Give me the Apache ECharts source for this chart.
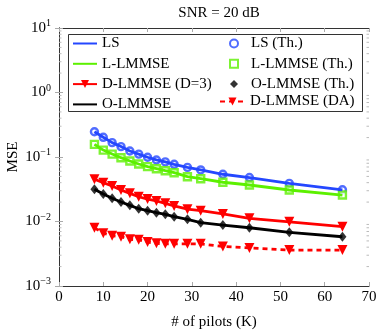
<!DOCTYPE html>
<html>
<head>
<meta charset="utf-8">
<script src="https://cdn.jsdelivr.net/npm/echarts@6/dist/echarts.min.js"></script>
<style>
  html, body { margin: 0; padding: 0; background: #fff; }
  #chart { width: 382px; height: 333px; }
</style>
</head>
<body>
<div id="chart"></div>
<script>
// number of pilots
const pilots = [8, 10, 12, 14, 16, 18, 20, 22, 24, 26, 29, 32, 37, 43, 52, 64];

// MSE values
const lsMse     = [0.246, 0.202, 0.167, 0.145, 0.124, 0.111, 0.099, 0.090, 0.084, 0.077, 0.069, 0.063, 0.054, 0.048, 0.039, 0.031];
const llmmseMse = [0.157, 0.128, 0.111, 0.0976, 0.0867, 0.0779, 0.0708, 0.0659, 0.0613, 0.0571, 0.0495, 0.0461, 0.0406, 0.0368, 0.0308, 0.0257];
const dlmmseMse = [0.0451, 0.040, 0.0355, 0.0308, 0.0273, 0.0242, 0.0223, 0.0208, 0.0191, 0.0174, 0.0155, 0.0147, 0.0131, 0.0112, 0.0099, 0.0083];
const olmmseMse = [0.0316, 0.0267, 0.0229, 0.0201, 0.0178, 0.0158, 0.0147, 0.0137, 0.0129, 0.0119, 0.0108, 0.0096, 0.0088, 0.0080, 0.0068, 0.0058];
const dlmmseDa  = [0.0080, 0.0066, 0.0060, 0.0058, 0.0053, 0.0052, 0.0048, 0.0046, 0.0045, 0.0045, 0.0045, 0.0045, 0.0041, 0.0039, 0.0036, 0.0036];

// theory markers sit on the simulated curves
const lsTh     = lsMse;
const llmmseTh = llmmseMse;
const olmmseTh = olmmseMse;

const xTicks = [0, 10, 20, 30, 40, 50, 60, 70];
const yDecades = [-3, -2, -1, 0, 1];

const FONT = 'Liberation Serif';
const FS = 15;
const BLUE = '#2447ff';
const GREEN = '#5cf000';
const RED = '#ff0000';
const BLACK = '#000000';
const LW = 2.8;

const pairs = ys => pilots.map((k, i) => [k, ys[i]]);

// minor tick positions 2..9 inside each decade
const minorVals = [];
for (let d = 0; d < yDecades.length - 1; d++) {
    for (let m = 2; m <= 9; m++) minorVals.push([0, m * Math.pow(10, yDecades[d])]);
}

const supText = e => e < 0 ? '\u2212' + (-e) : String(e);
const legendText = { fontFamily: FONT, fontSize: FS, color: '#000' };
const hideSym = name => ({ name: name, itemStyle: { opacity: 0 } });

const chart = echarts.init(document.getElementById('chart'));

const option = {
    animation: false,
    title: {
        text: 'SNR = 20 dB',
        left: 214,
        textAlign: 'center',
        top: 1,
        textStyle: { fontFamily: FONT, fontSize: FS, fontWeight: 'normal', color: '#000' }
    },
    grid: { left: 59, right: 13, top: 28, bottom: 47, outerBoundsMode: 'none', containLabel: false },
    graphic: [{
        type: 'rect',
        z: 50,
        shape: { x: 68.5, y: 34.5, width: 294, height: 77 },
        style: { fill: '#fff', stroke: '#333', lineWidth: 1 }
    }],
    legend: [{
        orient: 'vertical',
        left: 72, top: 36, padding: 0,
        itemGap: 5.3, itemWidth: 24, itemHeight: 10,
        textStyle: legendText,
        z: 60,
        data: [hideSym('LS'), hideSym('L-LMMSE'), 'D-LMMSE (D=3)', hideSym('O-LMMSE')]
    }, {
        orient: 'vertical',
        left: 229, top: 36, padding: 0,
        itemGap: 5.3, itemWidth: 8, itemHeight: 8,
        textStyle: Object.assign({ padding: [0, 0, 0, 8] }, legendText),
        z: 60,
        data: ['LS (Th.)', 'L-LMMSE (Th.)', 'O-LMMSE (Th.)']
    }, {
        orient: 'vertical',
        left: 219, top: 94, padding: 0,
        itemWidth: 25, itemHeight: 10,
        textStyle: legendText,
        z: 60,
        data: ['D-LMMSE (DA)']
    }],
    xAxis: [{
        type: 'value',
        min: xTicks[0],
        max: xTicks[xTicks.length - 1],
        interval: 10,
        name: '# of pilots (K)',
        nameLocation: 'middle',
        nameGap: 29,
        nameMoveOverlap: false,
        nameTextStyle: { fontFamily: FONT, fontSize: FS, color: '#000' },
        axisLine: { show: true, lineStyle: { color: '#333', width: 1 } },
        axisTick: { show: true, inside: true, length: 4, lineStyle: { color: '#aaa' } },
        axisLabel: { fontFamily: FONT, fontSize: FS, color: '#000', margin: 4 },
        splitLine: { show: false }
    }, {
        type: 'value',
        position: 'top',
        min: xTicks[0],
        max: xTicks[xTicks.length - 1],
        interval: 10,
        axisLine: { show: true, lineStyle: { color: '#333', width: 1 } },
        axisTick: { show: true, inside: true, length: 4, lineStyle: { color: '#aaa' } },
        axisLabel: { show: false },
        splitLine: { show: false }
    }],
    yAxis: [{
        type: 'log',
        logBase: 10,
        min: Math.pow(10, yDecades[0]),
        max: Math.pow(10, yDecades[yDecades.length - 1]),
        name: 'MSE',
        nameLocation: 'middle',
        nameGap: 38,
        nameMoveOverlap: false,
        nameTextStyle: { fontFamily: FONT, fontSize: FS, color: '#000' },
        axisLine: { show: true, lineStyle: { color: '#333', width: 1 } },
        axisTick: { show: true, inside: true, length: 4, lineStyle: { color: '#aaa' } },
        axisLabel: {
            margin: 8,
            formatter: v => '{b|10}{s|' + supText(Math.round(Math.log10(v))) + '}',
            rich: {
                b: { fontFamily: FONT, fontSize: FS, color: '#000' },
                s: { fontFamily: FONT, fontSize: 10, color: '#000', verticalAlign: 'bottom', padding: [0, 0, 9, 0] }
            }
        },
        splitLine: { show: false }
    }, {
        type: 'log',
        logBase: 10,
        position: 'right',
        min: Math.pow(10, yDecades[0]),
        max: Math.pow(10, yDecades[yDecades.length - 1]),
        axisLine: { show: true, lineStyle: { color: '#333', width: 1 } },
        axisTick: { show: true, inside: true, length: 4, lineStyle: { color: '#aaa' } },
        axisLabel: { show: false },
        splitLine: { show: false }
    }],
    series: [
        {
            // minor log ticks on both vertical sides
            type: 'custom',
            silent: true,
            clip: false,
            z: 1,
            data: minorVals,
            renderItem: (params, api) => {
                const y = api.coord([0, api.value(1)])[1];
                const xl = api.coord([xTicks[0], api.value(1)])[0];
                const xr = api.coord([xTicks[xTicks.length - 1], api.value(1)])[0];
                const st = { stroke: '#bbb', lineWidth: 1 };
                return {
                    type: 'group',
                    children: [
                        { type: 'line', shape: { x1: xl, y1: y, x2: xl + 2.5, y2: y }, style: st },
                        { type: 'line', shape: { x1: xr, y1: y, x2: xr - 2.5, y2: y }, style: st }
                    ]
                };
            }
        },
        {
            name: 'LS (Th.)', type: 'scatter', z: 2,
            data: pairs(lsTh),
            symbol: 'circle', symbolSize: 7,
            itemStyle: { color: '#fff', borderColor: BLUE, borderWidth: 2.4 }
        },
        {
            name: 'L-LMMSE (Th.)', type: 'scatter', z: 2,
            data: pairs(llmmseTh),
            symbol: 'rect', symbolSize: 7,
            itemStyle: { color: '#fff', borderColor: GREEN, borderWidth: 2.4 }
        },
        {
            name: 'LS', type: 'line', z: 3,
            data: pairs(lsMse),
            symbol: 'none',
            lineStyle: { color: BLUE, width: LW },
            itemStyle: { color: BLUE }
        },
        {
            name: 'L-LMMSE', type: 'line', z: 3,
            data: pairs(llmmseMse),
            symbol: 'none',
            lineStyle: { color: GREEN, width: LW },
            itemStyle: { color: GREEN }
        },
        {
            name: 'D-LMMSE (D=3)', type: 'line', z: 3,
            data: pairs(dlmmseMse),
            symbol: 'triangle', symbolRotate: 180, symbolSize: 10,
            lineStyle: { color: RED, width: LW },
            itemStyle: { color: RED }
        },
        {
            name: 'O-LMMSE', type: 'line', z: 3,
            data: pairs(olmmseMse),
            symbol: 'none',
            lineStyle: { color: BLACK, width: LW },
            itemStyle: { color: BLACK }
        },
        {
            name: 'O-LMMSE (Th.)', type: 'scatter', z: 4,
            data: pairs(olmmseTh),
            symbol: 'diamond', symbolSize: [8, 10],
            itemStyle: { color: BLACK }
        },
        {
            name: 'D-LMMSE (DA)', type: 'line', z: 3,
            data: pairs(dlmmseDa),
            symbol: 'triangle', symbolRotate: 180, symbolSize: 10,
            lineStyle: { color: RED, width: LW, type: [5, 4] },
            itemStyle: { color: RED }
        }
    ]
};

chart.setOption(option);
</script>
</body>
</html>
